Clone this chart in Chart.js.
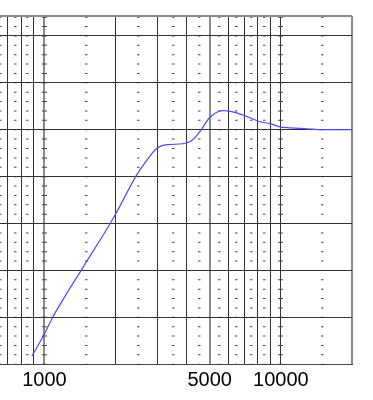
<!DOCTYPE html>
<html>
<head>
<meta charset="utf-8">
<script src="https://cdn.jsdelivr.net/npm/chart.js@4"></script>
<style>
  html, body { margin: 0; padding: 0; background: #fff; }
  #wrap { width: 373px; height: 400px; }
</style>
</head>
<body>
<div id="wrap"><canvas id="myChart"></canvas></div>
<script>
// frequency response (Hz / dB)
const freqs = [886, 1000, 1090, 1200, 1510, 1950, 2460, 2790, 3020, 3300, 3850, 4200, 4550, 5000, 5500, 5900, 6500, 7200, 8150, 9000, 9900, 10900, 12900, 15000, 20000]
const gain  = [-48.3, -43.6, -39.8, -36.2, -28.1, -19.0, -9.6, -5.7, -3.8, -3.2, -3.0, -2.3, -0.4, 2.6, 4.0, 4.0, 3.6, 2.8, 1.7, 1.3, 0.6, 0.4, 0.2, 0, 0]

const xGrid   = [700, 800, 900, 1000, 2000, 3000, 4000, 5000, 6000, 7000, 8000, 9000, 10000, 20000]
const xMinor  = [650, 750, 850, 1000, 1500, 2500, 3500, 4500, 5500, 6500, 7500, 8500, 10000, 15000]
const xLabels = [1000, 5000, 10000]
const yGrid   = [-50, -40, -30, -20, -10, 0, 10, 20]
const xMin = 649, xMax = 20000
const yMin = -50, yMax = 24.26

const pts = freqs.map((f, i) => ({ x: f, y: gain[i] }))

const grey = v => v === 1000 || v === 5000 || v === 20000

const ctx = document.getElementById('myChart');
new Chart(ctx, {
  type: 'line',
  data: {
    datasets: [{
      data: pts,
      borderColor: '#4a4aff',
      borderWidth: 1.2,
      pointRadius: 0,
      tension: 0.35,
      fill: false
    }]
  },
  options: {
    responsive: true,
    maintainAspectRatio: false,
    animation: false,
    layout: { padding: { top: 16, right: 21, left: 0, bottom: 0 } },
    plugins: { legend: { display: false }, tooltip: { enabled: false } },
    scales: {
      x: {
        type: 'logarithmic',
        position: 'bottom',
        min: xMin, max: xMax,
        afterBuildTicks: s => { s.ticks = xGrid.map(v => ({ value: v })) },
        afterFit: s => { s.height = 36 },
        border: { display: true, color: '#444', width: 1 },
        grid: {
          drawTicks: false,
          color: c => (c.tick && grey(c.tick.value)) ? '#8a8a8a' : '#333',
          lineWidth: c => (c.tick && grey(c.tick.value)) ? 2 : 1
        },
        ticks: {
          autoSkip: false,
          maxRotation: 0,
          padding: 4,
          color: '#000',
          font: { family: "'Liberation Sans', Arial, sans-serif", size: 20 },
          callback: v => xLabels.includes(v) ? String(v) : ''
        }
      },
      // little dotted marks between the grid lines
      x2: {
        type: 'logarithmic',
        position: 'top',
        min: xMin, max: xMax,
        afterBuildTicks: s => { s.ticks = xMinor.map(v => ({ value: v })) },
        afterFit: s => { s.height = 0 },
        border: { display: false, dash: [1, 8.38], dashOffset: 8.7 },
        ticks: { display: false },
        grid: {
          drawTicks: false,
          color: '#444',
          lineWidth: c => (c.tick && (c.tick.value === 1000 || c.tick.value === 10000)) ? 5 : 2.5
        }
      },
      y: {
        type: 'linear',
        min: yMin, max: yMax,
        afterBuildTicks: s => { s.ticks = yGrid.concat([yMax]).map(v => ({ value: v })) },
        afterFit: s => { s.width = 0 },
        border: { display: false },
        ticks: { display: false },
        grid: {
          drawTicks: false,
          color: c => (c.tick && c.tick.value === yMax) ? '#8a8a8a' : '#333',
          lineWidth: c => (c.tick && c.tick.value === yMax) ? 2 : 1
        }
      }
    }
  }
});
</script>
</body>
</html>
